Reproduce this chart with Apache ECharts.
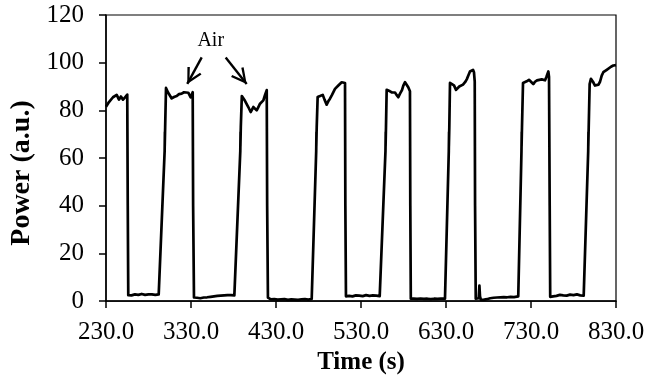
<!DOCTYPE html>
<html>
<head>
<meta charset="utf-8">
<script src="https://cdn.jsdelivr.net/npm/echarts@6/dist/echarts.min.js"></script>
<style>
  html, body { margin: 0; padding: 0; background: #fff; }
  #chart { width: 664px; height: 380px; }
</style>
</head>
<body>
<div id="chart"></div>
<script>
// power trace, time (s) / power (a.u.)
const timeS = [
  230, 233.5, 238.2, 242.6, 245.3, 247.6, 250, 252.4, 255, 255.6, 256.2,
  258, 260, 262, 264, 266, 268, 270, 272, 274, 276, 278, 280, 282, 284, 286, 288, 290, 292, 294, 294.7,
  299.0, 299.3, 299.1, 299.6, 300.6,
  303, 307.3, 310, 313.2, 315.9, 319, 321.8, 324.1, 326.8, 329.6, 332, 332.5, 333.5,
  335, 337, 339, 341, 343, 345, 347, 349, 351, 353, 355, 357, 359, 361, 363, 365, 367, 369, 371, 373, 375, 377, 379, 381, 382.9,
  388.0, 388.3, 388.1, 388.6, 389.8,
  390.8, 393.5, 397.4, 400.2, 403.3, 405.3, 407.3, 409.4, 411.2, 413.5, 415.1, 417.1, 419.1, 419.6, 420.5,
  422, 424, 426, 428, 430, 432, 434, 436, 438, 440, 442, 444, 446, 448, 450, 452, 454, 456, 458, 460, 462, 464, 466, 468, 470, 472,
  477.3, 477.6, 477.4, 477.9, 479,
  481.8, 485, 487.1, 489.6, 491.5, 493.5, 495.9, 499.4, 503.3, 505.3, 507.3, 509.4, 511.2, 511.6, 512.3,
  514, 516, 518, 520, 522, 524, 526, 528, 530, 532, 534, 536, 538, 540, 542, 544, 546, 548, 550, 552, 554.3,
  558.8, 559.1, 558.9, 559.4, 560.2,
  564.1, 566.5, 568, 570, 571.8, 573.9, 575.9, 578.2, 579.8, 581.8, 584.1, 585.6, 587.6, 588, 588.6,
  590, 592, 594, 596, 598, 600, 602, 604, 606, 608, 610, 612, 614, 616, 618, 620, 622, 624, 626, 628.8,
  633.3, 633.6, 633.4, 633.9, 634.7,
  637, 639.4, 641.8, 644.1, 645.6, 647.6, 650, 652.4, 654.4, 656.5, 658.2, 660.2, 661.8, 662.9, 663.8, 664.2, 665,
  667, 668.5, 669.3, 670, 671,
  672, 674, 676, 678, 680, 682, 684, 686, 688, 690, 692, 694, 696, 698, 700, 702, 704, 706, 708, 710, 712, 715,
  718.8, 719.1, 718.9, 719.4, 720.6,
  722.9, 724.9, 727.6, 730, 732.7, 734.7, 737.1, 739.4, 742.6, 744.5, 746.5, 748, 750.4, 751.2, 752, 752.6,
  754, 756, 758, 760, 762, 764, 766, 768, 770, 772, 774, 776, 778, 780, 782, 784, 786, 788, 790, 792, 793.5,
  797.3, 797.6, 797.4, 797.9, 799,
  800.5, 802.9, 805.3, 807.3, 809.4, 811.2, 813.2, 815.1, 819.1, 821, 824.1, 826.8, 830
];
const powerAU = [
  81.5, 83.5, 85.5, 86.5, 84.5, 85.8, 84.5, 85.5, 86.6, 40, 2.5,
  1.8, 2.4, 1.6, 2.8, 2.0, 2.6, 2.2, 3.0, 2.2, 2.6, 2.0, 2.8, 2.4, 2.8, 2.2, 2.6, 2.4, 2.8, 2.5, 2.5,
  63, 71, 65, 73, 89.4,
  87.5, 85, 85.6, 86, 86.8, 87, 87.6, 86.8, 87.4, 85.5, 87.6, 40, 1.5,
  0.8, 1.4, 0.6, 1.2, 0.8, 1.5, 0.9, 1.6, 1.2, 1.8, 1.3, 2.0, 1.6, 2.2, 1.7, 2.3, 1.9, 2.4, 2.0, 2.5, 2.1, 2.5, 2.2, 2.4, 2.3,
  63, 71, 65, 73, 86,
  86, 84, 81.4, 79.3, 81.4, 80.6, 80, 81.5, 82.8, 83.5, 84.2, 86.5, 88.5, 40, 1.5,
  1.2, 0.7, 1.3, 0.8, 1.1, 0.6, 1.2, 0.7, 1.3, 0.8, 1.0, 0.5, 1.1, 0.7, 1.2, 0.6, 1.0, 0.5, 1.1, 0.7, 1.2, 0.8, 1.0, 0.6, 1.1, 0.9,
  63, 71, 65, 73, 85.6,
  86, 86.5, 84.5, 82.4, 83.8, 84.9, 86.5, 89, 90.4, 91.2, 91.8, 91.6, 91.5, 40, 2,
  1.6, 2.2, 1.4, 2.0, 1.6, 2.4, 1.8, 2.3, 1.5, 2.1, 1.7, 2.5, 1.9, 2.2, 1.5, 2.4, 1.8, 2.3, 1.6, 2.1, 1.9,
  63, 71, 65, 73, 88.6,
  88, 87.5, 88.3, 87.5, 86.5, 85.5, 87, 88.5, 90.4, 91.8, 91, 89.7, 88, 40, 1,
  0.6, 1.0, 0.4, 0.9, 0.5, 1.1, 0.6, 0.9, 0.4, 1.0, 0.6, 0.8, 0.4, 1.0, 0.5, 0.9, 0.6, 1.1, 0.7, 1.0,
  63, 71, 65, 73, 91.5,
  91.8, 90.5, 88.6, 89, 90, 90.2, 90.8, 91.8, 93, 94.8, 96.3, 97, 97, 96, 92, 40, 1,
  1.5, 1.2, 6.5, 2, 0.6,
  1.0, 0.5, 1.2, 0.8, 1.6, 1.2, 1.8, 1.4, 1.9, 1.5, 2.0, 1.6, 2.1, 1.7, 2.0, 1.6, 2.2, 1.8, 2.1, 1.7, 2.2, 2.0,
  63, 71, 65, 73, 91.5,
  91.5, 92.2, 92.8, 92, 91, 92, 92.6, 92, 93, 93.6, 92.6, 93.9, 96.3, 94, 40, 1.8,
  1.6, 2.0, 1.4, 2.2, 1.8, 2.6, 1.9, 2.4, 1.7, 2.3, 1.9, 2.7, 2.0, 2.5, 1.8, 2.8, 2.1, 2.4, 1.9, 2.3, 2.0,
  63, 71, 65, 73, 91,
  93.2, 92, 90.4, 90, 90.8, 92, 94.6, 96, 97, 97.4, 98.3, 98.8, 99
];

const xMin = 230, xMax = 830, xStep = 100;
const yMin = 0, yMax = 120, yStep = 20;

// "Air" note and its two arrows, in data units
const airLabel = [353.2, 109.2];
const airArrows = [
  [[342.6, 102.2], [325.6, 91.1]],
  [[370.8, 102.2], [395.5, 91.1]]
];

const serif = "'Liberation Serif', 'Times New Roman', serif";
const chevron = 'path://M8,0 L16,15 L13.8,16 L8,4.6 L2.2,16 L0,15 Z';

const chart = echarts.init(document.getElementById('chart'));

chart.setOption({
  animation: false,
  textStyle: { fontFamily: serif },
  grid: {
    left: 106, right: 48, top: 15, bottom: 78,
    show: true, borderColor: '#000', borderWidth: 1.2,
    backgroundColor: 'transparent'
  },
  // y title sits a bit below the plot middle in the original
  graphic: [{
    type: 'text',
    x: 22, y: 173,
    rotation: Math.PI / 2,
    style: {
      text: 'Power (a.u.)',
      fontFamily: serif, fontSize: 28, fontWeight: 'bold', fill: '#000',
      align: 'center', verticalAlign: 'middle'
    }
  }],
  xAxis: {
    type: 'value',
    min: xMin, max: xMax, interval: xStep,
    name: 'Time (s)',
    nameLocation: 'middle',
    nameGap: 40,
    nameTextStyle: { fontFamily: serif, fontSize: 25, fontWeight: 'bold', color: '#000' },
    axisLine: { onZero: false, lineStyle: { color: '#000', width: 1.5 } },
    axisTick: { show: true, inside: false, length: 7, lineStyle: { color: '#000', width: 1.5 } },
    axisLabel: {
      color: '#000', fontFamily: serif, fontSize: 25, margin: 19,
      formatter: v => v.toFixed(1)
    },
    splitLine: { show: false }
  },
  yAxis: {
    type: 'value',
    min: yMin, max: yMax, interval: yStep,
    axisLine: { show: true, lineStyle: { color: '#000', width: 1.5 } },
    axisTick: { show: true, inside: false, length: 7, lineStyle: { color: '#000', width: 1.5 } },
    axisLabel: { color: '#000', fontFamily: serif, fontSize: 25, margin: 22 },
    splitLine: { show: false }
  },
  series: [{
    type: 'line',
    data: timeS.map((t, i) => [t, powerAU[i]]),
    showSymbol: false,
    symbol: 'none',
    lineStyle: { color: '#000', width: 2.7, join: 'round' },
    silent: true,
    clip: false,
    markPoint: {
      symbol: 'rect',
      symbolSize: 1,
      itemStyle: { color: 'transparent' },
      label: {
        show: true, position: 'inside', color: '#000',
        fontFamily: serif, fontSize: 20, formatter: 'Air'
      },
      data: [{ coord: airLabel }]
    },
    markLine: {
      silent: true,
      symbol: ['none', chevron],
      symbolSize: [16, 16],
      symbolOffset: [0, [0, 8]],
      label: { show: false },
      lineStyle: { color: '#000', width: 2.4, type: 'solid' },
      itemStyle: { color: '#000' },
      data: airArrows.map(a => [{ coord: a[0] }, { coord: a[1] }])
    }
  }]
});
</script>
</body>
</html>
